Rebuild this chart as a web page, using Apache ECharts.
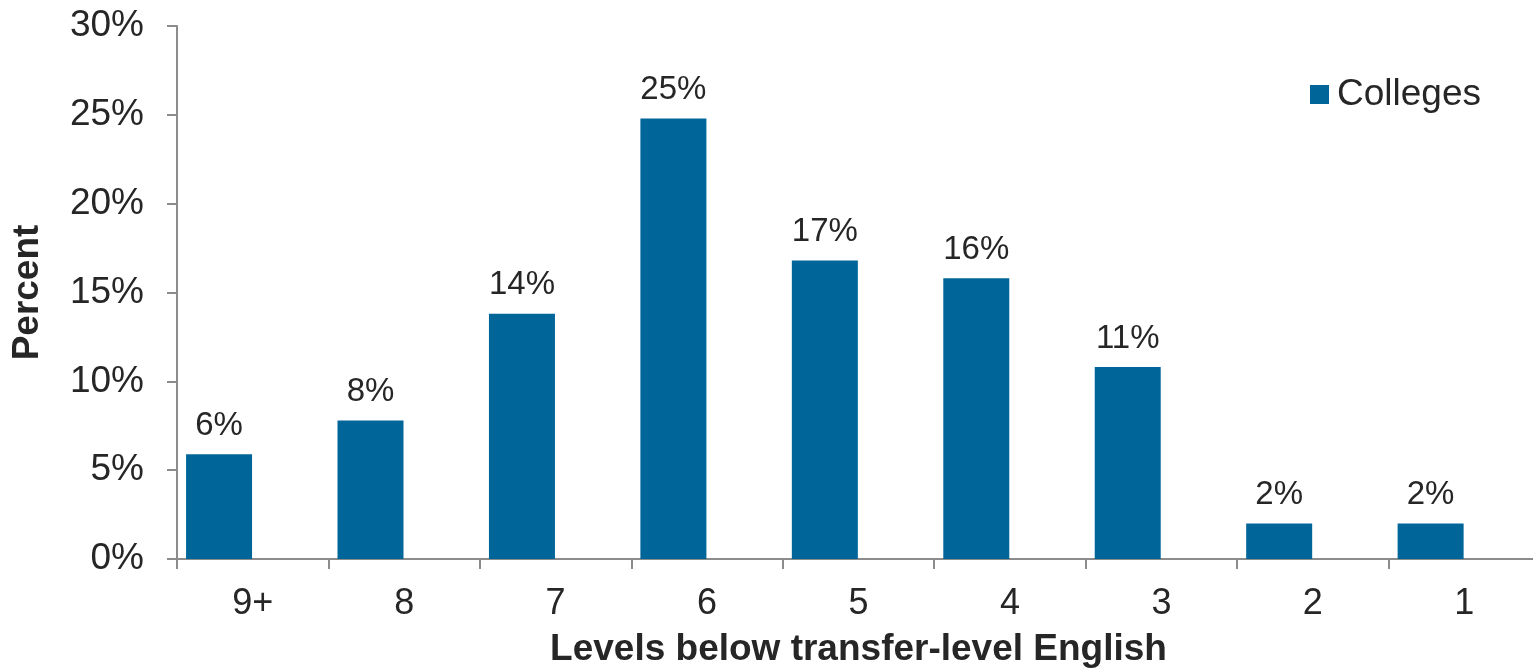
<!DOCTYPE html>
<html><head><meta charset="utf-8">
<script src="https://cdn.jsdelivr.net/npm/echarts@6/dist/echarts.min.js"></script>
<style>html,body{margin:0;padding:0;background:#fff;}#c{width:1533px;height:670px;}</style>
</head><body><div id="c"></div>
<script>
const categories = ['9+', '8', '7', '6', '5', '4', '3', '2', '1'];
const collegesValues = [5.9, 7.8, 13.8, 24.8, 16.8, 15.8, 10.8, 2.0, 2.0];
const yTicks = [0, 5, 10, 15, 20, 25, 30];
const seriesName = 'Colleges';

const chart = echarts.init(document.getElementById('c'), null, {renderer: 'canvas'});
const font = 'Liberation Sans, Arial, sans-serif';
chart.setOption({
  animation: false,
  backgroundColor: '#fff',
  textStyle: {fontFamily: font},
  legend: {
    data: [seriesName],
    left: 1310, top: 76, padding: 0,
    itemWidth: 19, itemHeight: 19, itemGap: 8,
    icon: 'rect',
    textStyle: {fontSize: 37, color: '#262626', fontFamily: font, padding: [0, 0, 0, 3]}
  },
  grid: {left: 177, top: 26, width: 1363, height: 533, containLabel: false, outerBoundsMode: 'none'},
  xAxis: {
    type: 'category',
    data: categories,
    name: 'Levels below transfer-level English',
    nameLocation: 'middle',
    nameGap: 72,
    nameTextStyle: {fontSize: 37, fontWeight: 'bold', color: '#262626', fontFamily: font},
    axisLine: {lineStyle: {color: '#8c8c8c', width: 2}},
    axisTick: {show: true, length: 10, alignWithLabel: false, lineStyle: {color: '#8c8c8c', width: 2}},
    axisLabel: {fontSize: 36, color: '#262626', margin: 27, fontFamily: font}
  },
  yAxis: {
    type: 'value',
    min: yTicks[0], max: yTicks[yTicks.length - 1], interval: 5,
    name: 'Percent',
    nameLocation: 'middle',
    nameGap: 131,
    nameRotate: 90,
    nameTextStyle: {fontSize: 37, fontWeight: 'bold', color: '#262626', fontFamily: font},
    axisLine: {show: true, lineStyle: {color: '#8c8c8c', width: 2}},
    axisTick: {show: true, length: 10, lineStyle: {color: '#8c8c8c', width: 2}},
    splitLine: {show: false},
    axisLabel: {fontSize: 37, color: '#262626', margin: 33, formatter: v => v + '%', fontFamily: font}
  },
  series: [{
    name: seriesName,
    type: 'bar',
    data: collegesValues,
    barWidth: 66,
    barGap: '2%',
    itemStyle: {color: '#006699'},
    label: {
      show: true, position: 'top', distance: 12,
      fontSize: 33, color: '#262626', fontFamily: font,
      formatter: p => Math.round(p.value) + '%'
    }
  }, {
    name: 'placeholder',
    type: 'bar',
    data: [],
    barWidth: 66,
    barGap: '2%',
    itemStyle: {color: 'transparent'}
  }]
});
</script></body></html>
